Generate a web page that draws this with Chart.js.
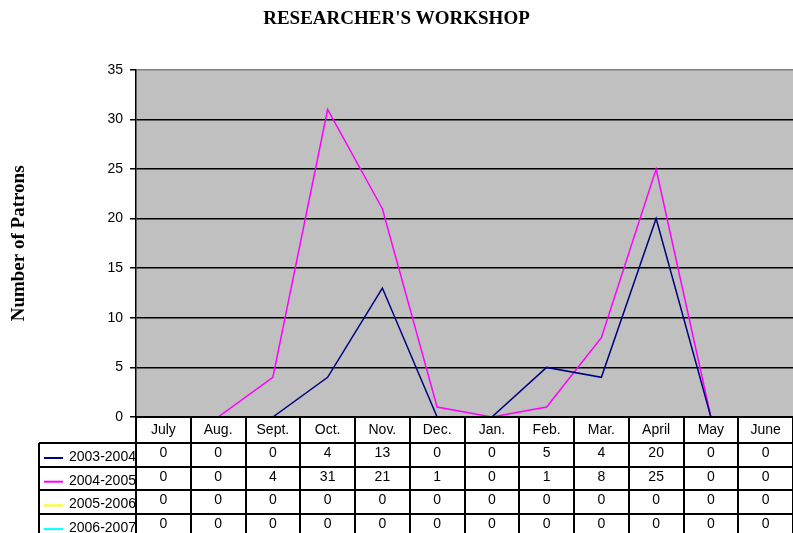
<!DOCTYPE html>
<html lang="en">
<head>
    <meta charset="UTF-8">
    <title>Researcher's Workshop</title>
    <script src="https://cdn.jsdelivr.net/npm/chart.js"></script>
    <style>
        * { margin: 0; padding: 0; box-sizing: border-box; }
        body { background: #fff; width: 793px; height: 533px; overflow: hidden; }
        #wrap { position: relative; width: 793px; height: 533px; }
    </style>
</head>
<body>
    <div id="wrap"><canvas id="chart"></canvas></div>
    <script>
        // chart data
        const months = ['July', 'Aug.', 'Sept.', 'Oct.', 'Nov.', 'Dec.', 'Jan.', 'Feb.', 'Mar.', 'April', 'May', 'June'];
        const seriesNames = ['2003-2004', '2004-2005', '2005-2006', '2006-2007'];
        const s2003 = [0, 0, 0, 4, 13, 0, 0, 5, 4, 20, 0, 0];
        const s2004 = [0, 0, 4, 31, 21, 1, 0, 1, 8, 25, 0, 0];
        const s2005 = [0, 0, 0, 0, 0, 0, 0, 0, 0, 0, 0, 0];
        const s2006 = [0, 0, 0, 0, 0, 0, 0, 0, 0, 0, 0, 0];
        const seriesColors = ['#000080', '#ff00ff', '#ffff00', '#00ffff'];
        const yMin = 0, yMax = 35, yStep = 5;

        const allSeries = [s2003, s2004, s2005, s2006];
        const cellFont = '14px "Liberation Sans", Arial, sans-serif';

        // grey plot background
        const plotBg = {
            id: 'plotBg',
            beforeDraw(chart) {
                const { ctx, chartArea: a } = chart;
                ctx.save();
                ctx.fillStyle = '#c0c0c0';
                ctx.fillRect(a.left, a.top, a.right - a.left, a.bottom - a.top);
                ctx.restore();
            }
        };

        // Excel style data table under the plot
        const dataTable = {
            id: 'dataTable',
            afterDraw(chart) {
                const { ctx, chartArea: a, scales: { x } } = chart;
                const top = a.bottom;
                const headH = 26, rowH = 23.7, legLeft = 39;
                const bottom = chart.height;
                const colW = (a.right - a.left) / months.length;
                ctx.save();
                ctx.strokeStyle = '#000';
                ctx.lineWidth = 2;
                ctx.beginPath();
                ctx.moveTo(a.left, top);
                ctx.lineTo(a.right, top);
                for (let k = 0; k < seriesNames.length; k++) {
                    const y = Math.round(top + headH + k * rowH);
                    ctx.moveTo(legLeft, y);
                    ctx.lineTo(a.right, y);
                }
                for (let i = 0; i <= months.length; i++) {
                    const xx = Math.round(a.left + i * colW);
                    ctx.moveTo(xx, top);
                    ctx.lineTo(xx, bottom);
                }
                ctx.moveTo(legLeft, top + headH);
                ctx.lineTo(legLeft, bottom);
                ctx.stroke();

                ctx.fillStyle = '#000';
                ctx.font = cellFont;
                ctx.textAlign = 'center';
                ctx.textBaseline = 'middle';
                months.forEach((m, i) => {
                    ctx.fillText(m, x.getPixelForValue(i), top + 13);
                });
                allSeries.forEach((s, k) => {
                    const rowTop = top + headH + k * rowH;
                    s.forEach((v, i) => {
                        ctx.fillText(String(v), x.getPixelForValue(i), rowTop + 10);
                    });
                });

                // legend keys
                ctx.save();
                ctx.beginPath();
                ctx.rect(legLeft, top, a.left - legLeft - 1, bottom - top);
                ctx.clip();
                seriesNames.forEach((name, k) => {
                    const rowTop = top + headH + k * rowH;
                    ctx.strokeStyle = seriesColors[k];
                    ctx.lineWidth = 2;
                    ctx.beginPath();
                    ctx.moveTo(44, rowTop + 15);
                    ctx.lineTo(63, rowTop + 15);
                    ctx.stroke();
                    ctx.fillStyle = '#000';
                    ctx.textAlign = 'left';
                    ctx.fillText(name, 69, rowTop + 14);
                });
                ctx.restore();
                ctx.restore();
            }
        };

        new Chart(document.getElementById('chart'), {
            type: 'line',
            data: {
                labels: months,
                datasets: seriesNames.map((name, k) => ({
                    label: name,
                    data: allSeries[k],
                    borderColor: seriesColors[k],
                    backgroundColor: seriesColors[k],
                    borderWidth: 1.5,
                    pointRadius: 0,
                    tension: 0,
                    fill: false
                }))
            },
            options: {
                responsive: true,
                maintainAspectRatio: false,
                animation: false,
                layout: { padding: { left: 0, right: 0, top: 0, bottom: 116 } },
                plugins: {
                    legend: { display: false },
                    tooltip: { enabled: false },
                    title: {
                        display: true,
                        text: "RESEARCHER'S WORKSHOP",
                        color: '#000',
                        font: { family: '"Liberation Serif", "Times New Roman", serif', size: 19, weight: 'bold' },
                        padding: { top: 8, bottom: 39 }
                    }
                },
                scales: {
                    x: {
                        display: false,
                        offset: true
                    },
                    y: {
                        min: yMin,
                        max: yMax,
                        afterFit(scale) { scale.width = 136; },
                        ticks: {
                            stepSize: yStep,
                            color: '#000',
                            padding: 7,
                            font: { family: '"Liberation Sans", Arial, sans-serif', size: 14 }
                        },
                        grid: {
                            color: (c) => c.tick && c.tick.value === yMax ? '#808080' : '#000',
                            tickColor: '#000',
                            tickLength: 6,
                            lineWidth: 1.5
                        },
                        border: { color: '#000', width: 1.5 },
                        title: {
                            display: true,
                            text: 'Number of Patrons',
                            color: '#000',
                            font: { family: '"Liberation Serif", "Times New Roman", serif', size: 19, weight: 'bold' },
                            padding: { top: 8, bottom: 0 }
                        }
                    }
                }
            },
            plugins: [plotBg, dataTable]
        });
    </script>
</body>
</html>
